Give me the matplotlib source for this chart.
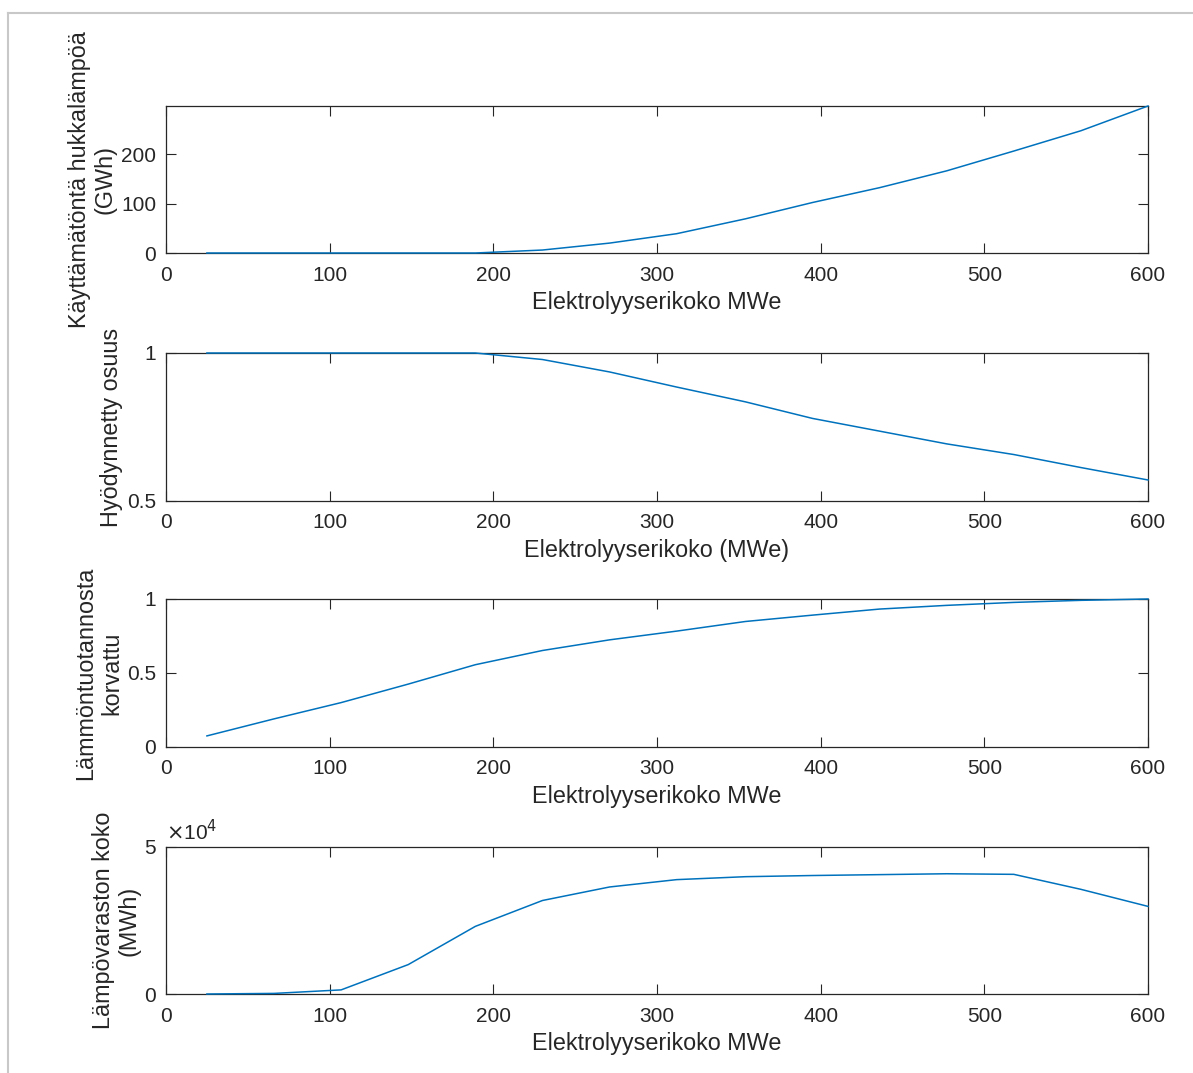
import matplotlib
matplotlib.use("Agg")
import matplotlib.pyplot as plt
from matplotlib.lines import Line2D

plt.rcParams['font.family'] = ['Liberation Sans', 'DejaVu Sans']

# Electrolyser size (MWe)
size_mwe = [25, 66, 107, 148, 189, 230, 271, 312, 354, 395, 436, 477, 518, 559, 600]

# Unused waste heat (GWh)
unused_heat = [0, 0, 0, 0, 0, 6, 20, 39, 69, 102, 132, 166, 206, 247, 297]

# Utilised share
utilised_share = [1.0, 1.0, 1.0, 1.0, 1.0, 0.978, 0.936, 0.885, 0.835, 0.779,
                  0.736, 0.693, 0.657, 0.613, 0.571]

# Share of heat production replaced
replaced_share = [0.075, 0.19, 0.30, 0.425, 0.556, 0.652, 0.724, 0.783, 0.848,
                  0.891, 0.932, 0.957, 0.977, 0.991, 1.0]

# Heat storage size (MWh)
storage_size = [0, 200, 1400, 10000, 23000, 31800, 36400, 38900, 39900, 40300,
                40600, 40900, 40700, 35600, 29800]

xticks = [0, 100, 200, 300, 400, 500, 600]

W, H = 1193, 1073
fig = plt.figure(figsize=(W / 100, H / 100), dpi=100)
fig.patch.set_facecolor('white')

# light gray figure frame (top and left edges)
fig.add_artist(Line2D([8 / W, 1], [1 - 13 / H, 1 - 13 / H], color='#c8c8c8', lw=1.5,
                      transform=fig.transFigure))
fig.add_artist(Line2D([8 / W, 8 / W], [0, 1 - 13 / H], color='#c8c8c8', lw=1.5,
                      transform=fig.transFigure))

line_color = '#0072BD'
axis_color = '#262626'
left = 166 / W
width = (1148 - 166) / W

boxes = [(106, 253), (353, 501), (599, 747), (847, 994)]
axes = []
for top, bot in boxes:
    ax = fig.add_axes([left, 1 - bot / H, width, (bot - top) / H])
    axes.append(ax)

series = [unused_heat, utilised_share, replaced_share, storage_size]
xlabels = ['Elektrolyyserikoko MWe', 'Elektrolyyserikoko (MWe)',
           'Elektrolyyserikoko MWe', 'Elektrolyyserikoko MWe']
ylabels = ['Käyttämätöntä hukkalämpöä\n(GWh)', 'Hyödynnetty osuus',
           'Lämmöntuotannosta\nkorvattu', 'Lämpövaraston koko\n(MWh)']

for ax, y, xl, yl in zip(axes, series, xlabels, ylabels):
    ax.plot(size_mwe, y, color=line_color, lw=1.1, clip_on=False, zorder=3)
    ax.set_xlim(0, 600)
    ax.set_xticks(xticks)
    ax.set_xticklabels([str(t) for t in xticks])
    ax.set_xlabel(xl, fontsize=16.8, color=axis_color, labelpad=5)
    ax.set_ylabel(yl, fontsize=16.8, color=axis_color, linespacing=1.15, labelpad=3)
    for sp in ax.spines.values():
        sp.set_color(axis_color)
        sp.set_linewidth(0.9)
    ax.tick_params(direction='in', top=True, right=True, length=7, width=0.8,
                   colors=axis_color, labelsize=15)
    ax.tick_params(axis='x', pad=9)
    ax.tick_params(axis='y', pad=7)

axes[0].set_ylim(0, max(unused_heat))
axes[0].set_yticks([0, 100, 200])
axes[0].set_yticklabels(['0', '100', '200'])

axes[1].set_ylim(0.5, 1)
axes[1].set_yticks([0.5, 1])
axes[1].set_yticklabels(['0.5', '1'])

axes[2].set_ylim(0, 1)
axes[2].set_yticks([0, 0.5, 1])
axes[2].set_yticklabels(['0', '0.5', '1'])

axes[3].set_ylim(0, 50000)
axes[3].set_yticks([0, 50000])
axes[3].set_yticklabels(['0', '5'])
axes[3].text(0.0, 1.02, r'$\times$10$^{4}$', transform=axes[3].transAxes,
             fontsize=15, color=axis_color, ha='left', va='bottom')

fig.savefig('out.png', dpi=100, facecolor='white')
